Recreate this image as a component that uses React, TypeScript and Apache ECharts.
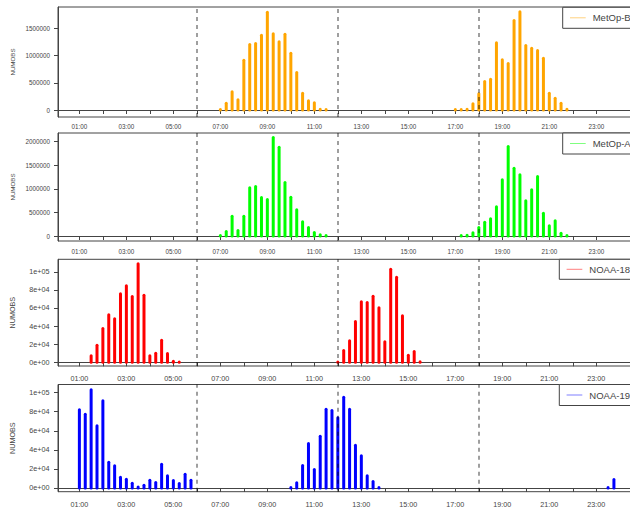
import React, { useEffect, useRef } from "react";
import * as echarts from "echarts";

// ---------------- data ----------------
const satelliteNames = ["MetOp-B", "MetOp-A", "NOAA-18", "NOAA-19"];
const satelliteColors = ["#FFA500", "#00FF00", "#FF0000", "#0000FF"];

const metopBTimes = [
  "07:00", "07:15", "07:30", "07:45", "08:00", "08:15", "08:30", "08:45", "09:00", "09:15",
  "09:30", "09:45", "10:00", "10:15", "10:30", "10:45", "11:00", "11:15", "11:30",
  "17:00", "17:15", "17:30", "17:45", "18:00", "18:15", "18:30", "18:45", "19:00", "19:15",
  "19:30", "19:45", "20:00", "20:15", "20:30", "20:45", "21:00", "21:15", "21:30", "21:45",
];
const metopBValues = [
  10000, 125000, 334000, 187000, 914000, 1202000, 1221000, 1373000, 1795000, 1399000,
  1252000, 1392000, 1043000, 688000, 308000, 169000, 132000, 15000, 8000,
  8000, 8000, 12000, 114000, 297000, 523000, 565000, 1234000, 922000, 854000,
  1643000, 1803000, 1184000, 1135000, 1092000, 951000, 308000, 217000, 125000, 12000,
];

const metopATimes = [
  "07:00", "07:15", "07:30", "07:45", "08:00", "08:15", "08:30", "08:45", "09:00", "09:15",
  "09:30", "09:45", "10:00", "10:15", "10:30", "10:45", "11:00", "11:15", "11:30",
  "17:15", "17:30", "17:45", "18:00", "18:15", "18:30", "18:45", "19:00", "19:15",
  "19:30", "19:45", "20:00", "20:15", "20:30", "20:45", "21:00", "21:15", "21:30", "21:45",
];
const metopAValues = [
  10000, 95000, 420000, 117000, 420000, 1022000, 1050000, 817000, 774000, 2089000,
  1883000, 1135000, 823000, 556000, 301000, 180000, 74000, 25000, 8000,
  8000, 17000, 68000, 180000, 293000, 365000, 619000, 1192000, 1898000,
  1438000, 1298000, 747000, 980000, 1262000, 484000, 216000, 322000, 59000, 8000,
];

const noaa18Times = [
  "01:30", "01:45", "02:00", "02:15", "02:30", "02:45", "03:00", "03:15", "03:30", "03:45",
  "04:00", "04:15", "04:30", "04:45", "05:00", "05:15",
  "12:00", "12:15", "12:30", "12:45", "13:00", "13:15", "13:30", "13:45", "14:00", "14:15",
  "14:30", "14:45", "15:00", "15:15", "15:30",
];
const noaa18Values = [
  7200, 18900, 37300, 52500, 48100, 75700, 84500, 72700, 108800, 74100,
  7200, 10100, 24400, 9700, 1200, 400,
  400, 13000, 23800, 45100, 66900, 66100, 73000, 60200, 22700, 102900,
  94000, 51400, 7800, 11900, 500,
];

const noaa19Times = [
  "01:00", "01:15", "01:30", "01:45", "02:00", "02:15", "02:30", "02:45", "03:00", "03:15",
  "03:30", "03:45", "04:00", "04:15", "04:30", "04:45", "05:00", "05:15", "05:30", "05:45",
  "10:00", "10:15", "10:30", "10:45", "11:00", "11:15", "11:30", "11:45", "12:00", "12:15",
  "12:30", "12:45", "13:00", "13:15", "13:30", "13:45",
  "23:30", "23:45",
];
const noaa19Values = [
  82000, 77400, 102900, 65200, 91400, 27000, 23300, 11300, 9200, 5000,
  1000, 2900, 8200, 5800, 24900, 12800, 7900, 4700, 14500, 8200,
  500, 5500, 23600, 46600, 19400, 54300, 82600, 81200, 73600, 95200,
  82600, 44900, 33800, 12800, 6800, 500,
  500, 8900,
];

const xTickHours = [1, 2, 3, 4, 5, 6, 7, 8, 9, 10, 11, 12, 13, 14, 15, 16, 17, 18, 19, 20, 21, 22, 23];
const xLabelHours = [1, 3, 5, 7, 9, 11, 13, 15, 17, 19, 21, 23];
const dashedHours = [6, 12, 18];
const yTicksMetopB = [0, 500000, 1000000, 1500000];
const yTicksMetopA = [0, 500000, 1000000, 1500000, 2000000];
const yTicksNoaa = [0, 20000, 40000, 60000, 80000, 100000];
const yAxisTitle = "NUMOBS";

// ---------------- helpers ----------------
const toHours = (t: string) => {
  const [h, m] = t.split(":").map(Number);
  return h + m / 60;
};
const pad2 = (n: number) => (n < 10 ? "0" + n : "" + n);
const plainFmt = (v: number) => String(Math.round(v));
const sciFmt = (v: number) => {
  const s = v.toExponential(0);
  const [m, e] = s.split("e");
  const sign = e[0] === "-" ? "-" : "+";
  const d = e.replace(/[+-]/, "");
  return m + "e" + sign + pad2(Number(d));
};

const FONT = "'Liberation Sans', Arial, Helvetica, sans-serif";
const CHART_W = 660;
const PLOT_LEFT = 58;
const PLOT_RIGHT = 635.3;
const TEXT_COLOR = "#444";

const panels = [
  {
    times: metopBTimes, values: metopBValues, yTicks: yTicksMetopB, fmt: plainFmt,
    top: 7, height: 110, yMin: -128500, yMax: 1891000,
    tickFont: 6.3, titleFont: 6.2, xMargin: 6, yMargin: 8,
    legend: { x: 562.7, y: 7.3, h: 21 },
  },
  {
    times: metopATimes, values: metopAValues, yTicks: yTicksMetopA, fmt: plainFmt,
    top: 133, height: 108, yMin: -106000, yMax: 2184500,
    tickFont: 6.3, titleFont: 6.2, xMargin: 7, yMargin: 8,
    legend: { x: 562.7, y: 133, h: 21 },
  },
  {
    times: noaa18Times, values: noaa18Values, yTicks: yTicksNoaa, fmt: sciFmt,
    top: 259.3, height: 106.7, yMin: -4090, yMax: 113800,
    tickFont: 7.2, titleFont: 7.2, xMargin: 8.5, yMargin: 8.5,
    legend: { x: 559.3, y: 259.3, h: 20 },
  },
  {
    times: noaa19Times, values: noaa19Values, yTicks: yTicksNoaa, fmt: sciFmt,
    top: 384.5, height: 107.2, yMin: -3880, yMax: 108500,
    tickFont: 7.2, titleFont: 7.2, xMargin: 9.5, yMargin: 8.5,
    legend: { x: 559.3, y: 384.5, h: 21 },
  },
];

function buildOption() {
  const grid: any[] = [];
  const xAxis: any[] = [];
  const yAxis: any[] = [];
  const series: any[] = [];
  const graphic: any[] = [];

  panels.forEach((p, i) => {
    const color = satelliteColors[i];
    grid.push({
      left: PLOT_LEFT,
      right: CHART_W - PLOT_RIGHT,
      top: p.top,
      height: p.height,
      show: true,
      borderColor: "#444",
      borderWidth: 1,
      backgroundColor: "transparent",
      containLabel: false,
    });
    xAxis.push({
      type: "value",
      gridIndex: i,
      min: 0.09,
      max: 24.66,
      axisLine: { show: true, lineStyle: { color: "#444", width: 1 } },
      axisTick: { show: true, length: 4, customValues: xTickHours, lineStyle: { color: "#444" } },
      axisLabel: {
        show: true,
        customValues: xLabelHours,
        formatter: (v: number) => pad2(Math.round(v)) + ":00",
        fontSize: p.tickFont,
        fontFamily: FONT,
        color: TEXT_COLOR,
        margin: p.xMargin,
      },
      splitLine: { show: false },
    });
    yAxis.push({
      type: "value",
      gridIndex: i,
      min: p.yMin,
      max: p.yMax,
      axisLine: { show: true, lineStyle: { color: "#444", width: 1 } },
      axisTick: { show: true, length: 4, customValues: p.yTicks, lineStyle: { color: "#444" } },
      axisLabel: {
        show: true,
        customValues: p.yTicks,
        formatter: (v: number) => p.fmt(v),
        fontSize: p.tickFont,
        fontFamily: FONT,
        color: TEXT_COLOR,
        margin: p.yMargin,
      },
      splitLine: { show: false },
    });
    series.push({
      type: "custom",
      name: satelliteNames[i],
      xAxisIndex: i,
      yAxisIndex: i,
      encode: { x: 0, y: 1 },
      data: p.times.map((t, k) => [toHours(t), p.values[k]]),
      renderItem: (params: any, api: any) => {
        const x = api.value(0);
        const y = api.value(1);
        const p0 = api.coord([x, 0]);
        const p1 = api.coord([x, y]);
        return {
          type: "line",
          shape: { x1: p0[0], y1: p0[1], x2: p1[0], y2: p1[1] },
          style: { stroke: color, lineWidth: 3, lineCap: "round" },
        };
      },
      markLine: {
        silent: true,
        symbol: ["none", "none"],
        z: 10,
        label: { show: false },
        lineStyle: { color: "rgba(0,0,0,0.5)", type: [4, 4], width: 1.5 },
        data: dashedHours.map((h) => ({ xAxis: h })),
      },
    });

    // legend box
    const L = p.legend;
    const midY = L.y + L.h / 2;
    graphic.push({
      type: "rect",
      z: 100,
      shape: { x: L.x, y: L.y, width: PLOT_RIGHT - L.x, height: L.h },
      style: { fill: "#fff", stroke: "#444", lineWidth: 1 },
    });
    graphic.push({
      type: "line",
      z: 101,
      shape: { x1: L.x + 7.3, y1: midY, x2: L.x + 23, y2: midY },
      style: { stroke: color, lineWidth: 1, opacity: 0.5 },
    });
    graphic.push({
      type: "text",
      z: 101,
      x: L.x + 30,
      y: midY,
      style: {
        text: satelliteNames[i],
        fontSize: 9.5,
        fontFamily: FONT,
        fill: TEXT_COLOR,
        verticalAlign: "middle",
        align: "left",
      },
    });
    // y axis title
    graphic.push({
      type: "text",
      z: 101,
      x: 12.5,
      y: p.top + p.height / 2,
      rotation: Math.PI / 2,
      style: {
        text: yAxisTitle,
        fontSize: p.titleFont,
        fontFamily: FONT,
        fill: TEXT_COLOR,
        align: "center",
        verticalAlign: "middle",
      },
    });
  });

  return {
    animation: false,
    backgroundColor: "#fff",
    grid,
    xAxis,
    yAxis,
    series,
    graphic,
  };
}

export default function App() {
  const ref = useRef<HTMLDivElement>(null);
  useEffect(() => {
    if (!ref.current) return;
    const chart = echarts.init(ref.current, undefined, { renderer: "svg" });
    chart.setOption(buildOption() as any);
    return () => chart.dispose();
  }, []);
  return (
    <div
      style={{
        position: "fixed",
        left: 0,
        top: 0,
        width: 630,
        height: 509,
        overflow: "hidden",
        background: "#fff",
      }}
    >
      <div ref={ref} style={{ width: CHART_W, height: 509 }} />
    </div>
  );
}
